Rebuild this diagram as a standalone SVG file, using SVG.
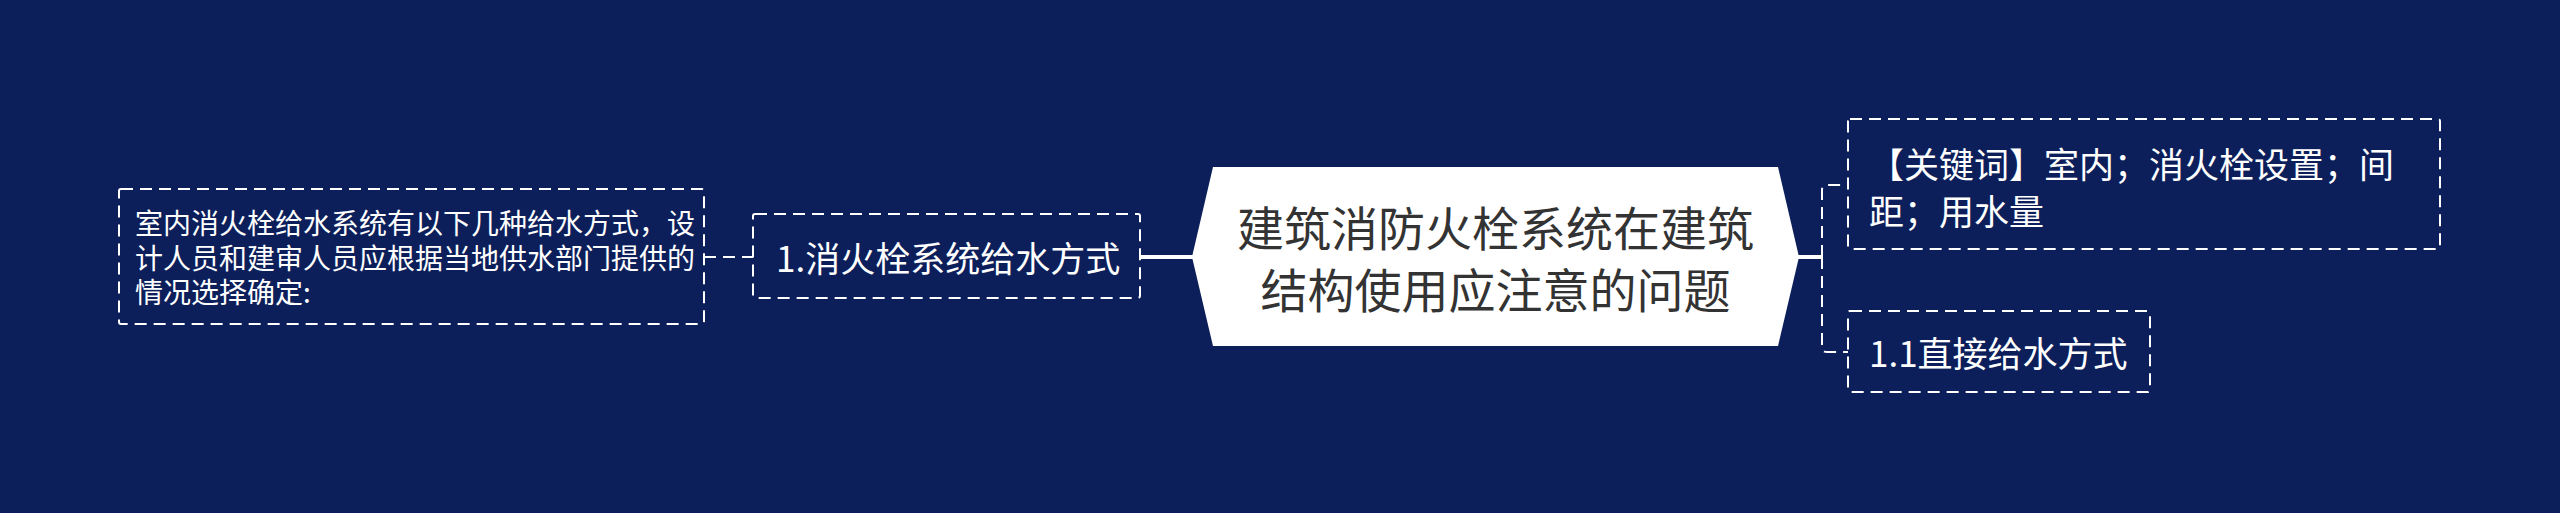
<svg xmlns="http://www.w3.org/2000/svg" width="2560" height="513" viewBox="0 0 2560 513">
<style>
.bg{fill:#0c1f5b}
.box{fill:none;stroke:#ffffff;stroke-width:2;stroke-dasharray:12 7}
.t{font-family:"Noto Sans CJK SC","Noto Sans",sans-serif;fill:#ffffff;dominant-baseline:central}
.ct{font-family:"Noto Sans CJK SC","Noto Sans",sans-serif;fill:#333333;dominant-baseline:central;text-anchor:middle}
.solid{fill:none;stroke:#ffffff;stroke-width:4}
.dash{fill:none;stroke:#ffffff;stroke-width:2;stroke-dasharray:12 7}
</style>
<rect class="bg" x="0" y="0" width="2560" height="513"/>
<g id="connectors">
<line class="dash" x1="704" y1="257" x2="753" y2="257"/>
<line class="solid" x1="1140" y1="257" x2="1194" y2="257"/>
<line class="solid" x1="1797" y1="257" x2="1823" y2="257"/>
<path class="dash" d="M1822 257 V190 Q1822 185 1827 185 H1848"/>
<path class="dash" d="M1822 257 V347 Q1822 352 1827 352 H1848"/>
</g>
<g id="center">
<polygon points="1192,257 1213,167 1778,167 1799,257 1778,346 1213,346" fill="#ffffff"/>
<text class="ct" x="1495.5" y="225" font-size="47">建筑消防火栓系统在建筑</text>
<text class="ct" x="1495.5" y="287" font-size="47">结构使用应注意的问题</text>
</g>
<g id="node1">
<rect class="box" x="753" y="214" width="387" height="84" rx="2"/>
<text class="t" x="776" y="256" font-size="35">1.消火栓系统给水方式</text>
</g>
<g id="leaf">
<rect class="box" x="119" y="189" width="585" height="135" rx="2"/>
<text class="t" x="135" y="222" font-size="28">室内消火栓给水系统有以下几种给水方式，设</text>
<text class="t" x="135" y="257" font-size="28">计人员和建审人员应根据当地供水部门提供的</text>
<text class="t" x="135" y="291" font-size="28">情况选择确定:</text>
</g>
<g id="keywords">
<rect class="box" x="1848" y="119" width="592" height="130" rx="2"/>
<text class="t" x="1869" y="162" font-size="35">【关键词】室内；消火栓设置；间</text>
<text class="t" x="1869" y="209" font-size="35">距；用水量</text>
</g>
<g id="node11">
<rect class="box" x="1848" y="311" width="302" height="81" rx="2"/>
<text class="t" x="1869" y="351" font-size="35">1.1直接给水方式</text>
</g>
</svg>
